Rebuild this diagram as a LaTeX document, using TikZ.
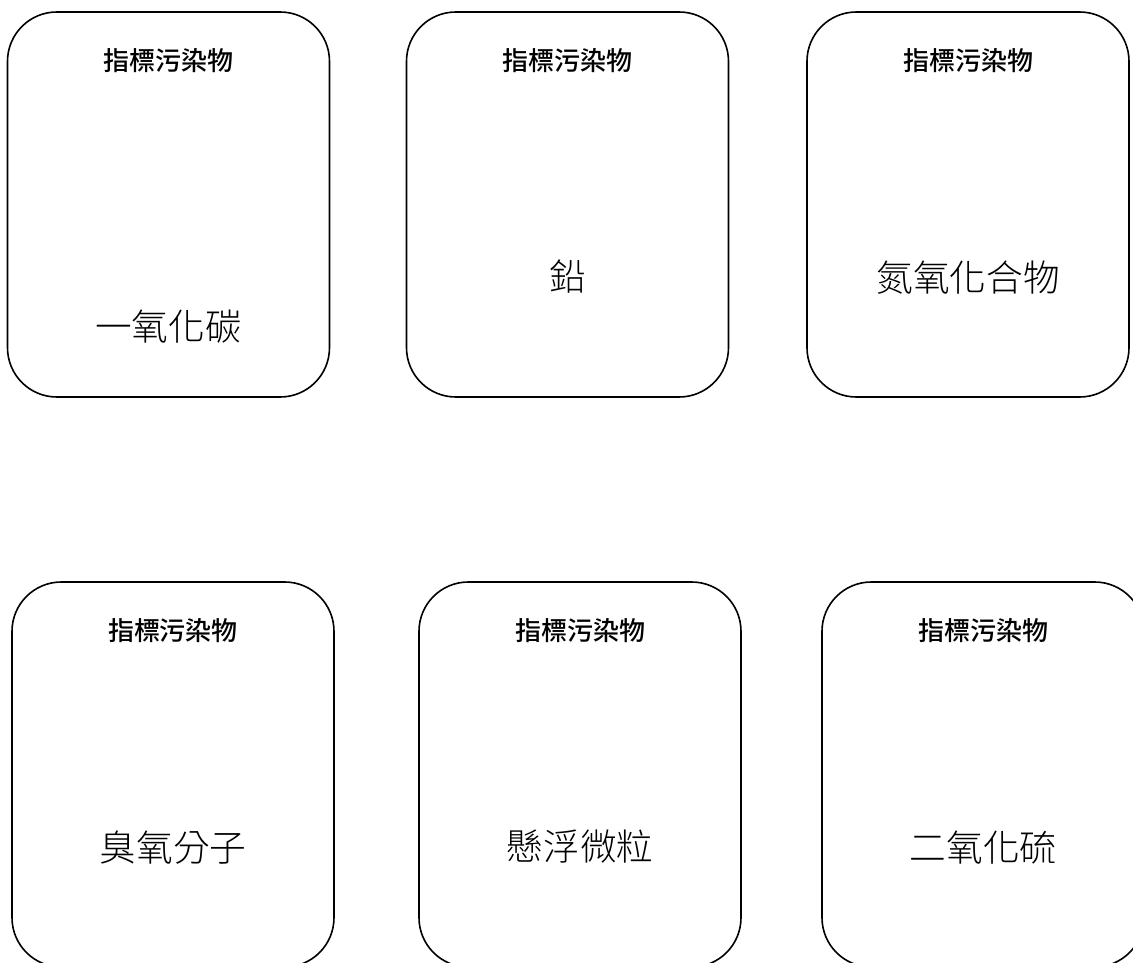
\documentclass[tikz,border=0pt]{standalone}
\usepackage{fontspec}
\newfontfamily\cjk{Noto Sans CJK TC}[UprightFont={* Light}]
\newfontfamily\cjkt{Noto Sans CJK TC}[UprightFont={* Medium}]
\usetikzlibrary{calc}

\tikzset{
  pbox/.style  = {draw, line width=1.2pt, rounded corners=37pt,
                  minimum width=241.5pt, minimum height=288.75pt,
                  inner sep=0pt},
  ptitle/.style = {inner sep=0pt, font=\cjkt\fontsize{19.5}{20}\selectfont},
  plabel/.style = {inner sep=0pt, font=\cjk\fontsize{27.5}{28}\selectfont}
}

\begin{document}
\begin{tikzpicture}[x = {(0.75pt,0pt)},
  y = {(0pt,-0.75pt)}]

  % page
  \useasboundingbox (0,0) rectangle (1133,963);
  \clip (0,0) rectangle (1133,963);

  \def\ttop{49}

  % boxes: name / centre x / centre y / label / label below top
  \foreach \nm/\cx/\cy/\lab/\ly in
  {co/168.5/204.5/一氧化碳/315,
   pb/567.5/204.5/鉛/265,
   nox/968/204.5/氮氧化合物/266,
   oz/173/774.5/臭氧分子/266,
   pm/580/774.5/懸浮微粒/265,
   so/983/774.5/二氧化硫/266}
  {
  \node[pbox] (\nm) at (\cx,\cy) {};
  \node[ptitle] (\nm-title) at ($(\nm.north)+(0,\ttop)$) {指標污染物};
  \node[plabel] (\nm-label) at ($(\nm.north)+(0,\ly)$) {\lab};
  }
\end{tikzpicture}
\end{document}
